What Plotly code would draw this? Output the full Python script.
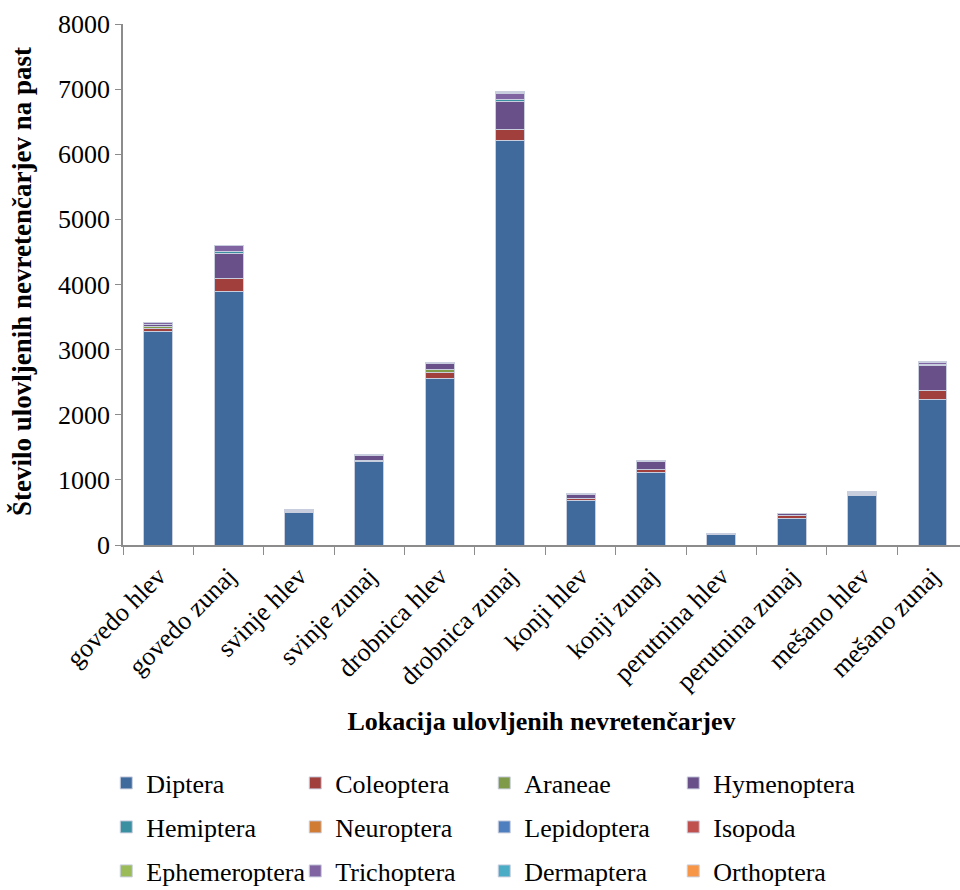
import plotly.graph_objects as go

# Trap locations (x categories)
locations = ["govedo hlev", "govedo zunaj", "svinje hlev", "svinje zunaj",
             "drobnica hlev", "drobnica zunaj", "konji hlev", "konji zunaj",
             "perutnina hlev", "perutnina zunaj", "mešano hlev", "mešano zunaj"]

# Invertebrates caught per trap, by order
diptera       = [3280, 3900, 495, 1285, 2560, 6215, 680, 1110, 158, 400, 758, 2238]
coleoptera    = [50, 185, 15, 15, 90, 170, 30, 50, 12, 50, 0, 128]
araneae       = [20, 0, 0, 0, 45, 0, 0, 0, 0, 0, 15, 0]
hymenoptera   = [35, 390, 20, 70, 90, 425, 60, 125, 8, 30, 15, 389]
hemiptera     = [5, 25, 0, 0, 0, 30, 0, 0, 0, 0, 0, 20]
neuroptera    = [0, 0, 0, 0, 0, 0, 0, 0, 0, 0, 15, 0]
lepidoptera   = [0, 0, 0, 0, 0, 0, 0, 0, 0, 0, 25, 0]
isopoda       = [0, 0, 0, 0, 0, 0, 0, 0, 0, 0, 0, 0]
ephemeroptera = [0, 0, 0, 0, 0, 0, 0, 0, 0, 0, 0, 0]
trichoptera   = [30, 105, 8, 15, 15, 90, 20, 20, 0, 10, 0, 25]
dermaptera    = [0, 0, 0, 0, 10, 20, 0, 0, 0, 0, 0, 20]
orthoptera    = [0, 0, 0, 12, 0, 10, 0, 0, 5, 0, 0, 0]

series_names = ["Diptera", "Coleoptera", "Araneae", "Hymenoptera",
                "Hemiptera", "Neuroptera", "Lepidoptera", "Isopoda",
                "Ephemeroptera", "Trichoptera", "Dermaptera", "Orthoptera"]
series_values = [diptera, coleoptera, araneae, hymenoptera,
                 hemiptera, neuroptera, lepidoptera, isopoda,
                 ephemeroptera, trichoptera, dermaptera, orthoptera]
series_colors = ["#3F6A9B", "#A03F3C", "#7F9A48", "#6A5088",
                 "#3A8FA0", "#D07C34", "#4F7FBE", "#C0504D",
                 "#9BBB59", "#8064A2", "#4BACC6", "#F79646"]

y_ticks = [0, 1000, 2000, 3000, 4000, 5000, 6000, 7000, 8000]

FONT = "Liberation Serif, Times New Roman, serif"
FS = 26
AXIS_GREY = "#8C8C8C"

fig = go.Figure()
for i, (name, vals, col) in enumerate(zip(series_names, series_values, series_colors)):
    row = i // 4
    # empty segments are left out so they draw no outline
    fig.add_trace(go.Bar(
        x=locations, y=[v if v else None for v in vals], name=name,
        marker=dict(color=col, line=dict(color="#C9CEDF", width=1)),
        legend="legend" if row == 0 else f"legend{row + 1}",
    ))

plot_top, plot_bottom = 24, 545
plot_left, plot_right = 123, 960
plot_h = plot_bottom - plot_top
plot_w = plot_right - plot_left
row_y = [783, 827, 871]

def legend_cfg(ypix):
    return dict(
        orientation="h", x=-0.02, xanchor="left",
        y=(plot_bottom - ypix) / plot_h, yanchor="middle",
        font=dict(family=FONT, size=FS, color="#000"),
        entrywidth=144, entrywidthmode="pixels",
        bgcolor="rgba(0,0,0,0)", itemclick=False, traceorder="normal",
    )

fig.update_layout(
    width=960, height=890,
    margin=dict(l=plot_left, r=960 - plot_right, t=plot_top, b=890 - plot_bottom,
                autoexpand=False),
    barmode="stack", bargap=0.59,
    plot_bgcolor="white", paper_bgcolor="white",
    font=dict(family=FONT, size=FS, color="#000"),
    showlegend=True,
    legend=legend_cfg(row_y[0]),
    legend2=legend_cfg(row_y[1]),
    legend3=legend_cfg(row_y[2]),
    xaxis=dict(
        categoryorder="array", categoryarray=locations,
        range=[-0.5, 11.39], tickangle=-45, automargin=False,
        tickson="boundaries", ticks="outside", ticklen=8, tickcolor=AXIS_GREY,
        ticklabelstandoff=4,
        showline=True, linecolor=AXIS_GREY, linewidth=1.5,
        tickfont=dict(family=FONT, size=FS, color="#000"),
        title=dict(text="<b>Lokacija ulovljenih nevretenčarjev</b>",
                   font=dict(family=FONT, size=FS, color="#000"), standoff=17),
    ),
    yaxis=dict(
        range=[0, 8000], tickvals=y_ticks, automargin=False,
        ticks="outside", ticklen=6, tickcolor=AXIS_GREY,
        showline=True, linecolor=AXIS_GREY, linewidth=1.5,
        showgrid=False, zeroline=False,
        tickfont=dict(family=FONT, size=FS, color="#000"),
    ),
    annotations=[dict(
        text="<b>Število ulovljenih nevretenčarjev na past</b>",
        textangle=-90, xref="paper", yref="paper",
        x=(22 - plot_left) / plot_w, y=(plot_bottom - 282) / plot_h,
        xanchor="center", yanchor="middle", showarrow=False,
        font=dict(family=FONT, size=27, color="#000"),
    )],
)

fig.write_html("out.html")
